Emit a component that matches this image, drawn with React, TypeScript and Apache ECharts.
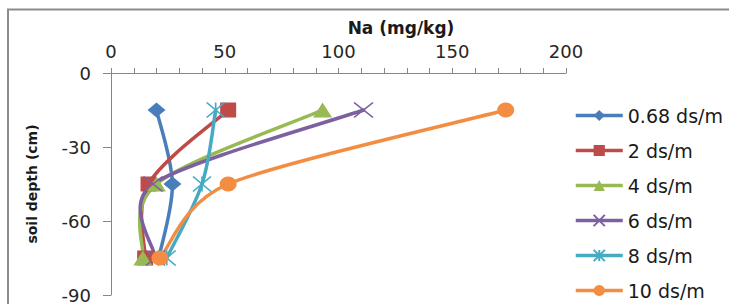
import React, { useEffect, useRef } from "react";
import * as echarts from "echarts";

const depths = [-15, -45, -75];
const seriesNames = ["0.68 ds/m", "2 ds/m", "4 ds/m", "6 ds/m", "8 ds/m", "10 ds/m"];
const na068 = [20, 27, 21];
const na2 = [51.5, 16.5, 15];
const na4 = [93, 20, 14];
const na6 = [111, 18.5, 19.5];
const na8 = [46, 40, 24.5];
const na10 = [173.5, 51.5, 21.5];
const xTicks = [0, 50, 100, 150, 200];
const yTicks = [0, -30, -60, -90];

const allValues = [na068, na2, na4, na6, na8, na10];
const colors = ["#4A7EBB", "#BE4B48", "#98B954", "#7D60A0", "#46AAC5", "#F38D42"];
const symbols = [
  "diamond",
  "rect",
  "triangle",
  "path://M0,0L10,10M10,0L0,10",
  "path://M5,0L5,10M0,0L10,10M10,0L0,10",
  "circle",
];
const symbolSizes = [
  [18, 15],
  [16, 15],
  [19, 15],
  [19, 15],
  [18, 15],
  [17, 15],
];

const FONT = "DejaVu Sans";
const LINE_W = 3.5;

// Excel-like smoothing control point
function ctrl(pts: number[][], k: number, dir: number): number[] {
  const n = pts.length;
  const cur = pts[k];
  const prev = pts[Math.max(k - 1, 0)];
  const next = pts[Math.min(k + 1, n - 1)];
  const vx = next[0] - prev[0];
  const vy = next[1] - prev[1];
  const d02 = Math.hypot(vx, vy);
  if (d02 === 0) return cur;
  const d01 = Math.hypot(cur[0] - prev[0], cur[1] - prev[1]);
  const d12 = Math.hypot(next[0] - cur[0], next[1] - cur[1]);
  let len = d02 / 6;
  [d01, d12].forEach((d) => {
    if (d > 0) len = Math.min(len, d / 2);
  });
  return [cur[0] + (dir * vx * len) / d02, cur[1] + (dir * vy * len) / d02];
}

function curveSeries(vals: number[], color: string, idx: number) {
  return {
    type: "custom",
    name: "curve" + idx,
    coordinateSystem: "cartesian2d",
    silent: true,
    z: 2,
    clip: false,
    data: vals.map((v, j) => [v, depths[j]]),
    renderItem: (params: any, api: any) => {
      const i = params.dataIndex;
      if (i >= vals.length - 1) return null;
      const pts = vals.map((v, j) => api.coord([v, depths[j]]));
      const a = pts[i];
      const b = pts[i + 1];
      const c1 = ctrl(pts, i, 1);
      const c2 = ctrl(pts, i + 1, -1);
      return {
        type: "bezierCurve",
        shape: {
          x1: a[0],
          y1: a[1],
          x2: b[0],
          y2: b[1],
          cpx1: c1[0],
          cpy1: c1[1],
          cpx2: c2[0],
          cpy2: c2[1],
        },
        style: { stroke: color, lineWidth: LINE_W, fill: "none", lineCap: "round" },
      };
    },
  };
}

export default function App() {
  const ref = useRef<HTMLDivElement>(null);
  useEffect(() => {
    if (!ref.current) return;
    const chart = echarts.init(ref.current, null, { renderer: "svg" });
    const curves = allValues.map((vals, i) => curveSeries(vals, colors[i], i));
    const markers = allValues.map((vals, i) => {
      const stroked = i === 3 || i === 4;
      return {
        name: seriesNames[i],
        type: "line",
        z: 3,
        data: vals.map((v, j) => [v, depths[j]]),
        symbol: symbols[i],
        symbolSize: symbolSizes[i],
        lineStyle: { color: colors[i], width: LINE_W, opacity: 0 },
        itemStyle: stroked
          ? { color: colors[i], borderColor: colors[i], borderWidth: 1.5 }
          : { color: colors[i], borderWidth: 0 },
      };
    });
    chart.setOption({
      animation: false,
      grid: { left: 111, right: 163, top: 73, bottom: 9, containLabel: false },
      xAxis: {
        type: "value",
        position: "top",
        min: xTicks[0],
        max: xTicks[xTicks.length - 1],
        interval: 50,
        axisLine: { show: true, lineStyle: { color: "#868686", width: 1 } },
        axisTick: { show: true, length: 5, lineStyle: { color: "#868686" } },
        minorTick: { show: true, splitNumber: 5, length: 5, lineStyle: { color: "#868686" } },
        splitLine: { show: false },
        axisLabel: { color: "#262626", fontFamily: FONT, fontSize: 18, margin: 13 },
      },
      yAxis: {
        type: "value",
        min: yTicks[yTicks.length - 1],
        max: yTicks[0],
        interval: 30,
        name: "soil depth (cm)",
        nameLocation: "middle",
        nameGap: 72,
        nameTextStyle: { fontFamily: FONT, fontWeight: "bold", fontSize: 14, color: "#1a1a1a" },
        axisLine: { show: true, lineStyle: { color: "#868686", width: 1 } },
        axisTick: { show: true, length: 8, lineStyle: { color: "#868686" } },
        splitLine: { show: false },
        axisLabel: { color: "#262626", fontFamily: FONT, fontSize: 18, margin: 20 },
      },
      legend: {
        orient: "vertical",
        left: 569,
        top: 101,
        height: 210,
        itemWidth: 47,
        itemHeight: 14,
        itemGap: 16,
        data: seriesNames,
        lineStyle: { width: LINE_W, opacity: 1 },
        textStyle: { fontFamily: FONT, fontSize: 19, color: "#1a1a1a" },
      },
      graphic: [
        {
          type: "rect",
          shape: { x: 8, y: 9.5, width: 760, height: 340 },
          style: { fill: "none", stroke: "#8c8c8c", lineWidth: 2 },
          silent: true,
        },
        {
          type: "text",
          x: 401,
          y: 28,
          style: {
            text: "Na (mg/kg)",
            font: `bold 17px "${FONT}"`,
            fill: "#1a1a1a",
            textAlign: "center",
            textVerticalAlign: "middle",
          },
        },
      ],
      series: [...curves, ...markers],
    });
    return () => chart.dispose();
  }, []);
  return (
    <div
      ref={ref}
      style={{ position: "fixed", left: 0, top: 0, width: 729, height: 304, background: "#fff" }}
    />
  );
}
